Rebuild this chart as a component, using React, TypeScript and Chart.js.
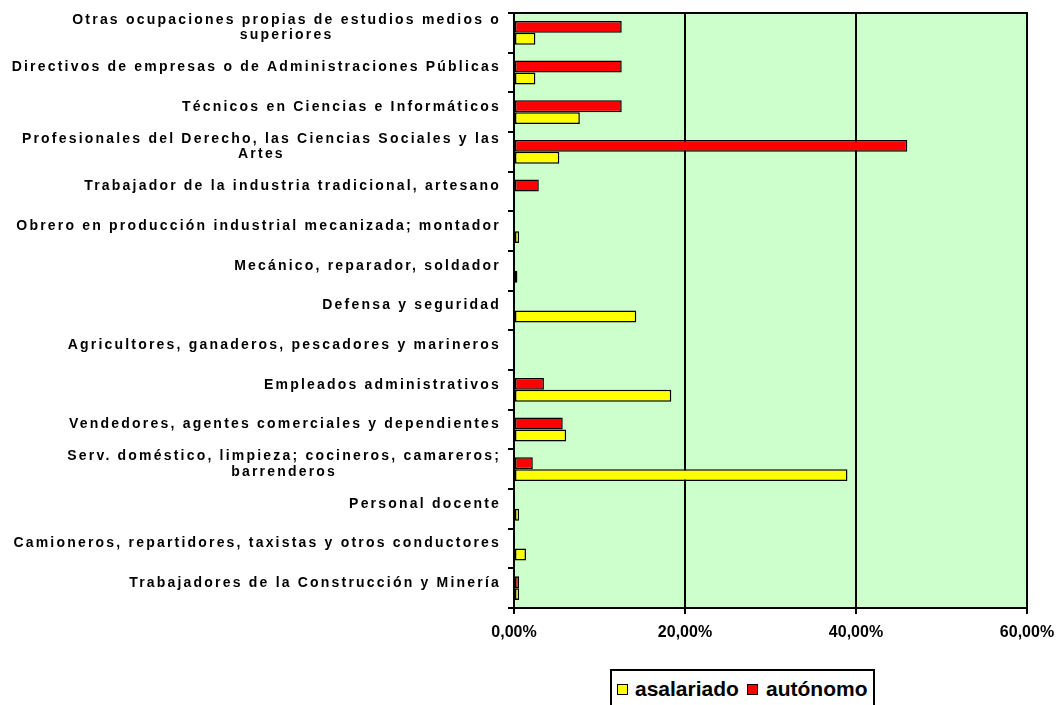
import React, { useEffect, useRef } from "react";
import { Chart, registerables } from "chart.js";

Chart.register(...registerables);

const categories: (string | string[])[] = [
  ["Otras ocupaciones propias de estudios medios o", "superiores"],
  "Directivos de empresas o de Administraciones Públicas",
  "Técnicos en Ciencias e Informáticos",
  ["Profesionales del Derecho, las Ciencias Sociales y las", "Artes"],
  "Trabajador de la industria tradicional, artesano",
  "Obrero en producción industrial mecanizada; montador",
  "Mecánico, reparador, soldador",
  "Defensa y seguridad",
  "Agricultores, ganaderos, pescadores y marineros",
  "Empleados administrativos",
  "Vendedores, agentes comerciales y dependientes",
  ["Serv. doméstico, limpieza; cocineros, camareros;", "barrenderos"],
  "Personal docente",
  "Camioneros, repartidores, taxistas y otros conductores",
  "Trabajadores de la Construcción y Minería",
];

const asalariado: (number | null)[] = [2.5, 2.5, 7.7, 5.3, null, 0.6, 0.4, 14.3, null, 18.4, 6.1, 39.0, 0.6, 1.4, 0.6];
const autonomo: (number | null)[] = [12.6, 12.6, 12.6, 46.0, 2.9, null, null, null, null, 3.5, 5.7, 2.2, null, null, 0.6];

const xTicks = [0, 20, 40, 60];
const seriesNames = ["asalariado", "autónomo"];
const seriesColors = ["#FFFF00", "#FF0000"];

const FONT = "'Liberation Sans', Arial, Helvetica, sans-serif";

const bgPlugin = {
  id: "plotBg",
  beforeDraw(chart: any) {
    const { ctx, chartArea } = chart;
    ctx.save();
    ctx.fillStyle = "#CCFFCC";
    ctx.fillRect(chartArea.left, chartArea.top, chartArea.right - chartArea.left, chartArea.bottom - chartArea.top);
    ctx.restore();
  },
  afterDatasetsDraw(chart: any) {
    const { ctx, chartArea } = chart;
    ctx.save();
    ctx.strokeStyle = "#000";
    ctx.lineWidth = 2;
    ctx.strokeRect(chartArea.left, chartArea.top, chartArea.right - chartArea.left, chartArea.bottom - chartArea.top);
    ctx.restore();
  },
};

const yLabelPlugin = {
  id: "yLabels",
  afterDraw(chart: any) {
    const ctx = chart.ctx;
    const ys = chart.scales.y;
    ctx.save();
    ctx.font = `bold 14px ${FONT}`;
    (ctx as any).letterSpacing = "2.2px";
    ctx.fillStyle = "#000";
    ctx.textAlign = "center";
    ctx.textBaseline = "middle";
    const right = chart.chartArea.left - 13;
    categories.forEach((lab, i) => {
      const lines = Array.isArray(lab) ? lab : [lab];
      const maxW = Math.max(...lines.map((l) => ctx.measureText(l).width));
      const cx = right - maxW / 2;
      const cy = ys.getPixelForTick(i) - 5;
      const lh = 15.5;
      lines.forEach((l, j) => ctx.fillText(l, cx, cy + (j - (lines.length - 1) / 2) * lh));
    });
    ctx.restore();
  },
};

export default function App() {
  const ref = useRef<HTMLCanvasElement | null>(null);

  useEffect(() => {
    if (!ref.current) return;
    const chart = new Chart(ref.current, {
      type: "bar",
      data: {
        labels: categories as any,
        datasets: [
          {
            label: seriesNames[1],
            data: autonomo,
            backgroundColor: seriesColors[1],
            borderColor: "#000",
            borderWidth: 1.5,
            borderSkipped: false,
            categoryPercentage: 0.6,
            barPercentage: 1,
          },
          {
            label: seriesNames[0],
            data: asalariado,
            backgroundColor: seriesColors[0],
            borderColor: "#000",
            borderWidth: 1.5,
            borderSkipped: false,
            categoryPercentage: 0.6,
            barPercentage: 1,
          },
        ],
      },
      options: {
        indexAxis: "y",
        animation: false,
        responsive: false,
        maintainAspectRatio: false,
        layout: { padding: { top: 13, right: 31, left: 0, bottom: 0 } },
        plugins: {
          legend: { display: false },
          tooltip: { enabled: false },
        },
        scales: {
          x: {
            type: "linear",
            min: xTicks[0],
            max: xTicks[xTicks.length - 1],
            afterBuildTicks: (scale: any) => {
              scale.ticks = xTicks.map((v) => ({ value: v }));
            },
            afterFit: (scale: any) => {
              scale.height = 97;
              scale.paddingLeft = 0;
              scale.paddingRight = 0;
            },
            ticks: {
              color: "#000",
              font: { family: FONT, size: 16, weight: "bold" },
              padding: 9,
              maxRotation: 0,
              callback: (v: any) => Number(v).toFixed(2).replace(".", ",") + "%",
            },
            grid: { color: "#000", lineWidth: 2, drawTicks: true, tickLength: 6 },
            border: { display: true, color: "#000", width: 2 },
          },
          y: {
            type: "category",
            afterFit: (scale: any) => {
              scale.width = 514;
              scale.paddingTop = 0;
              scale.paddingBottom = 0;
            },
            ticks: { display: false },
            grid: { color: "#000", lineWidth: 2, drawOnChartArea: false, drawTicks: true, tickLength: 6, offset: true },
            border: { display: true, color: "#000", width: 2 },
          },
        },
      },
      plugins: [bgPlugin, yLabelPlugin],
    } as any);
    return () => chart.destroy();
  }, []);

  const legendItem = (color: string, text: string, left: number, textLeft: number) => (
    <>
      <div
        style={{
          position: "absolute",
          left: left,
          top: 684,
          width: 9,
          height: 9,
          background: color,
          border: "1.5px solid #000",
        }}
      />
      <div
        style={{
          position: "absolute",
          left: textLeft,
          top: 677,
          fontFamily: FONT,
          fontWeight: "bold",
          fontSize: 21,
          lineHeight: "24px",
          color: "#000",
          whiteSpace: "nowrap",
        }}
      >
        {text}
      </div>
    </>
  );

  return (
    <div style={{ position: "absolute", left: 0, top: 0, width: 1058, height: 705, background: "#fff", overflow: "hidden" }}>
      <canvas ref={ref} width={1058} height={705} style={{ position: "absolute", left: 0, top: 0 }} />
      <div
        style={{
          position: "absolute",
          left: 610,
          top: 669,
          width: 261,
          height: 40,
          border: "2px solid #000",
          background: "#fff",
        }}
      />
      {legendItem(seriesColors[0], seriesNames[0], 617, 635)}
      {legendItem(seriesColors[1], seriesNames[1], 747, 766)}
    </div>
  );
}
